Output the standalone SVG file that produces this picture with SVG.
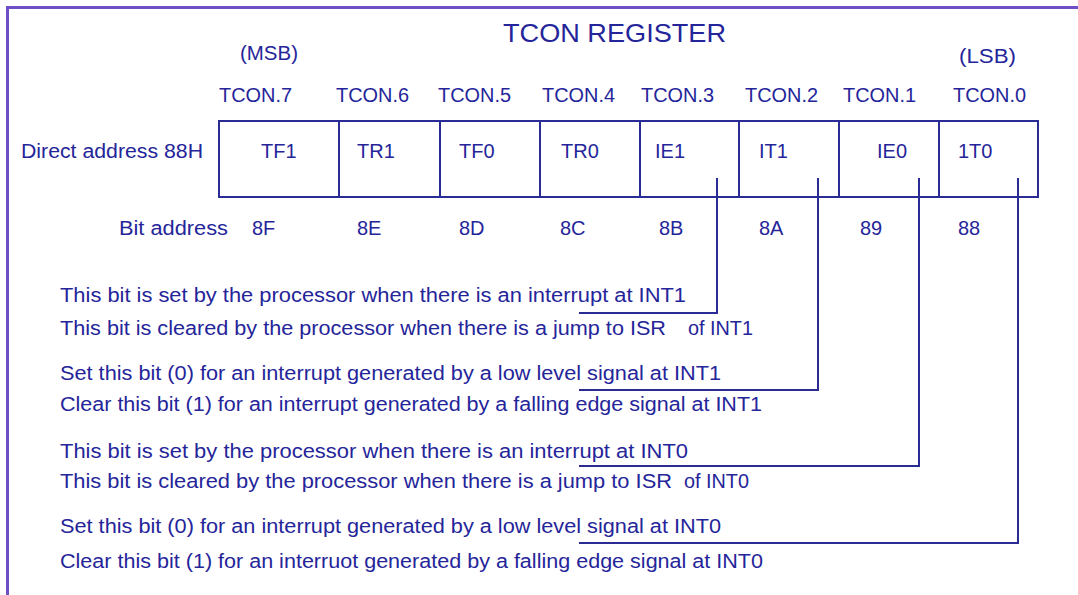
<svg xmlns="http://www.w3.org/2000/svg" width="1078" height="595" viewBox="0 0 1078 595">
<style>
.t{font-family:"Liberation Sans",Arial,sans-serif;font-size:20px;fill:#25259a}
.ttl{font-size:26px}
.cell{fill:#ffffff;stroke:#2b2b94;stroke-width:2}
.ln{fill:none;stroke:#2b2b94;stroke-width:2}
</style>
<rect x="7.5" y="7.5" width="1090" height="610" fill="#ffffff" stroke="#6e4fc6" stroke-width="3"/>
<g id="title">
<text class="t ttl" x="503" y="42" textLength="223" lengthAdjust="spacingAndGlyphs">TCON REGISTER</text>
<text class="t" x="240" y="60" textLength="58" lengthAdjust="spacingAndGlyphs">(MSB)</text>
<text class="t" x="959" y="63" textLength="57" lengthAdjust="spacingAndGlyphs">(LSB)</text>
</g>
<g id="bit-names">
<text class="t" x="219" y="102" textLength="73" lengthAdjust="spacingAndGlyphs">TCON.7</text>
<text class="t" x="336" y="102" textLength="73" lengthAdjust="spacingAndGlyphs">TCON.6</text>
<text class="t" x="438" y="102" textLength="73" lengthAdjust="spacingAndGlyphs">TCON.5</text>
<text class="t" x="542" y="102" textLength="73" lengthAdjust="spacingAndGlyphs">TCON.4</text>
<text class="t" x="641" y="102" textLength="73" lengthAdjust="spacingAndGlyphs">TCON.3</text>
<text class="t" x="745" y="102" textLength="73" lengthAdjust="spacingAndGlyphs">TCON.2</text>
<text class="t" x="843" y="102" textLength="73" lengthAdjust="spacingAndGlyphs">TCON.1</text>
<text class="t" x="953" y="102" textLength="73" lengthAdjust="spacingAndGlyphs">TCON.0</text>
</g>
<text id="direct-address" class="t" x="21" y="158" textLength="182" lengthAdjust="spacingAndGlyphs">Direct address 88H</text>
<g id="TF1"><rect class="cell" x="219" y="121" width="120" height="76"/><text class="t" x="261" y="158">TF1</text></g>
<g id="TR1"><rect class="cell" x="339" y="121" width="101" height="76"/><text class="t" x="357" y="158">TR1</text></g>
<g id="TF0"><rect class="cell" x="440" y="121" width="100" height="76"/><text class="t" x="459" y="158">TF0</text></g>
<g id="TR0"><rect class="cell" x="540" y="121" width="100" height="76"/><text class="t" x="561" y="158">TR0</text></g>
<g id="IE1"><rect class="cell" x="640" y="121" width="99" height="76"/><text class="t" x="655" y="158">IE1</text></g>
<g id="IT1"><rect class="cell" x="739" y="121" width="100" height="76"/><text class="t" x="759" y="158">IT1</text></g>
<g id="IE0"><rect class="cell" x="839" y="121" width="100" height="76"/><text class="t" x="877" y="158">IE0</text></g>
<g id="1T0"><rect class="cell" x="939" y="121" width="99" height="76"/><text class="t" x="958" y="158">1T0</text></g>
<g id="bit-addresses">
<text class="t" x="119" y="235" textLength="109" lengthAdjust="spacingAndGlyphs">Bit address</text>
<text class="t" x="252" y="235">8F</text>
<text class="t" x="357" y="235">8E</text>
<text class="t" x="459" y="235">8D</text>
<text class="t" x="560" y="235">8C</text>
<text class="t" x="659" y="235">8B</text>
<text class="t" x="759" y="235">8A</text>
<text class="t" x="860" y="235">89</text>
<text class="t" x="958" y="235">88</text>
</g>
<g id="descriptions">
<text class="t" x="60" y="302" textLength="626" lengthAdjust="spacingAndGlyphs">This bit is set by the processor when there is an interrupt at INT1</text>
<text class="t" y="335"><tspan x="60" textLength="606" lengthAdjust="spacingAndGlyphs">This bit is cleared by the processor when there is a jump to ISR</tspan><tspan x="688" textLength="65" lengthAdjust="spacingAndGlyphs">of INT1</tspan></text>
<text class="t" x="60" y="380" textLength="661" lengthAdjust="spacingAndGlyphs">Set this bit (0) for an interrupt generated by a low level signal at INT1</text>
<text class="t" x="60" y="411" textLength="702" lengthAdjust="spacingAndGlyphs">Clear this bit (1) for an interrupt generated by a falling edge signal at INT1</text>
<text class="t" x="60" y="458" textLength="628" lengthAdjust="spacingAndGlyphs">This bit is set by the processor when there is an interrupt at INT0</text>
<text class="t" y="488"><tspan x="60" textLength="612" lengthAdjust="spacingAndGlyphs">This bit is cleared by the processor when there is a jump to ISR</tspan><tspan x="684" textLength="65" lengthAdjust="spacingAndGlyphs">of INT0</tspan></text>
<text class="t" x="60" y="533" textLength="661" lengthAdjust="spacingAndGlyphs">Set this bit (0) for an interrupt generated by a low level signal at INT0</text>
<text class="t" x="60" y="568" textLength="703" lengthAdjust="spacingAndGlyphs">Clear this bit (1) for an interruot generated by a falling edge signal at INT0</text>
</g>
<g id="connectors">
<polyline class="ln" points="717,178 717,313 579,313"/>
<polyline class="ln" points="818,178 818,390 579,390"/>
<polyline class="ln" points="919,178 919,466 579,466"/>
<polyline class="ln" points="1018,178 1018,543 579,543"/>
</g>
</svg>
